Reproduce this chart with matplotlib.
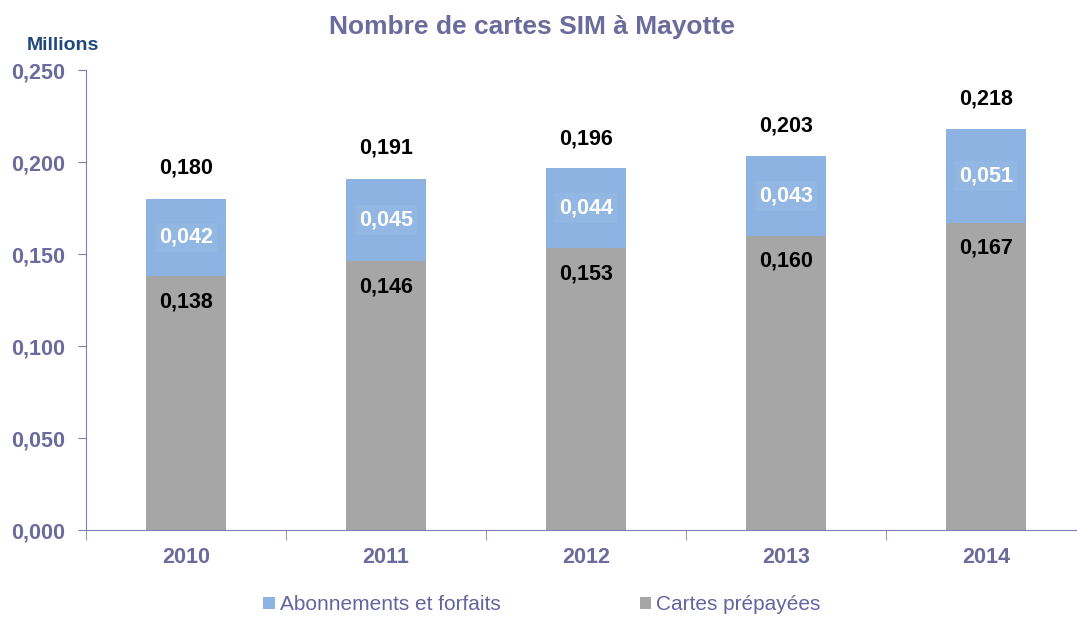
import matplotlib.pyplot as plt
from matplotlib.patches import Patch

years = ['2010', '2011', '2012', '2013', '2014']
prepayees = [0.138, 0.146, 0.153, 0.160, 0.167]
abonnements = [0.042, 0.045, 0.044, 0.043, 0.051]
totals = [0.180, 0.191, 0.196, 0.203, 0.218]

BLUE = '#8DB3E2'
GRAY = '#A6A6A6'
AXCOL = '#7F7FB0'
TXTCOL = '#6B6B9C'

plt.rcParams['font.family'] = ['Liberation Sans', 'DejaVu Sans']


def fr(v):
    return f"{v:.3f}".replace('.', ',')


fig = plt.figure(figsize=(10.77, 6.17), dpi=100)
ax = fig.add_axes([86 / 1077, 87 / 617, 1000 / 1077, 460 / 617])

x = range(len(years))
ax.bar(x, prepayees, width=0.4, color=GRAY)
ax.bar(x, abonnements, width=0.4, bottom=prepayees, color=BLUE)

for i in x:
    ax.text(i, prepayees[i] - 0.014, fr(prepayees[i]), ha='center', va='center',
            fontsize=15.5, fontweight='bold', color='black')
    ax.text(i, prepayees[i] + abonnements[i] / 2, fr(abonnements[i]), ha='center', va='center',
            fontsize=15.5, fontweight='bold', color='white',
            bbox=dict(boxstyle='square,pad=0.2', facecolor='#93B7E3', edgecolor='none'))
    ax.text(i, totals[i] + 0.0165, fr(totals[i]), ha='center', va='center',
            fontsize=15.5, fontweight='bold', color='black')

ax.set_xlim(-0.5, 4.5)
ax.set_ylim(0, 0.25)
ax.set_yticks([0, 0.05, 0.1, 0.15, 0.2, 0.25])
ax.set_yticklabels([fr(v) for v in [0, 0.05, 0.1, 0.15, 0.2, 0.25]])
ax.set_xticks(list(x))
ax.set_xticklabels(years)
ax.set_xticks([i + 0.5 for i in range(-1, len(years))], minor=True)
ax.tick_params(axis='x', which='major', length=0, pad=12)
ax.tick_params(axis='x', which='minor', length=7, color=AXCOL, direction='out')
ax.tick_params(axis='y', length=6, color=AXCOL, direction='out', pad=9)
for lbl in ax.get_xticklabels() + ax.get_yticklabels():
    lbl.set_fontsize(15.5)
    lbl.set_fontweight('bold')
    lbl.set_color(TXTCOL)

for s in ['top', 'right']:
    ax.spines[s].set_visible(False)
for s in ['left', 'bottom']:
    ax.spines[s].set_color(AXCOL)

fig.text(532 / 1077, 1 - 27 / 617, 'Nombre de cartes SIM à Mayotte', ha='center', va='center',
         fontsize=19, fontweight='bold', color=TXTCOL)
fig.text(27 / 1077, 1 - 45 / 617, 'Millions', ha='left', va='center',
         fontsize=14, fontweight='bold', color='#1F497D')

handles = [Patch(facecolor=BLUE, edgecolor='none', label='Abonnements et forfaits'),
           Patch(facecolor=GRAY, edgecolor='none', label='Cartes prépayées')]
leg = fig.legend(handles=handles, loc='center', bbox_to_anchor=(542 / 1077, 1 - 605 / 617), ncol=2,
                 frameon=False, fontsize=15, handlelength=0.55, handleheight=0.55,
                 handletextpad=0.24, columnspacing=6.7)
for t in leg.get_texts():
    t.set_color('#6464A0')

fig.savefig('out.png', dpi=100)
